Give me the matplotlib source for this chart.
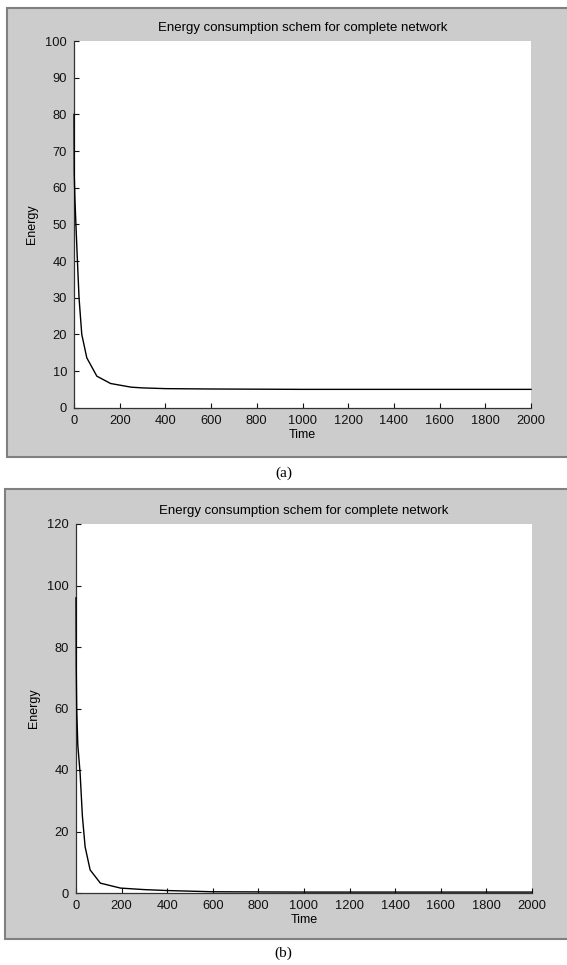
import matplotlib
matplotlib.use('Agg')
import matplotlib.pyplot as plt
from matplotlib.patches import Rectangle

# data
time_a = [0, 1, 4, 9, 15, 22, 34, 56, 100, 160, 250, 300, 400, 600, 800, 1000, 2000]
energy_a = [80, 64, 57, 49, 40, 30, 20, 13.6, 8.6, 6.6, 5.6, 5.4, 5.2, 5.1, 5.05, 5.0, 5.0]

time_b = [0, 1, 3, 8, 18, 28, 40, 62, 107, 195, 300, 400, 600, 1000, 2000]
energy_b = [96, 74, 60, 48, 39, 25, 15, 7.5, 3.2, 1.6, 1.1, 0.8, 0.4, 0.3, 0.3]

title = 'Energy consumption schem for complete network'
W, H = 567, 965

plt.rcParams['font.family'] = ['Liberation Sans', 'DejaVu Sans']
fig = plt.figure(figsize=(W / 100, H / 100), dpi=100, facecolor='white')


def px_rect(x0, y0, x1, y1):
    # pixel box (top-left origin) -> figure fraction [l, b, w, h]
    return [x0 / W, 1 - y1 / H, (x1 - x0) / W, (y1 - y0) / H]


def panel(bg_box, ax_box, t, e, ymax, ystep, caption, cap_y):
    l, b, w, h = px_rect(*bg_box)
    fig.patches.append(Rectangle((l, b), w, h, transform=fig.transFigure,
                                 facecolor='#cccccc', edgecolor='#808080',
                                 linewidth=1.5, zorder=-10))
    ax = fig.add_axes(px_rect(*ax_box))
    ax.plot(t, e, color='black', linewidth=1.0, zorder=5, clip_on=False)
    ax.set_xlim(0, 2000)
    ax.set_ylim(0, ymax)
    ax.set_xticks(range(0, 2001, 200))
    ax.set_yticks(range(0, ymax + 1, ystep))
    ax.spines['top'].set_visible(False)
    ax.spines['right'].set_visible(False)
    for s in ('left', 'bottom'):
        ax.spines[s].set_linewidth(0.9)
        ax.spines[s].set_color('#333333')
    ax.tick_params(direction='in', length=3.5, width=0.8, labelsize=9.3,
                   colors='#111111')
    ax.tick_params(axis='x', pad=5)
    ax.tick_params(axis='y', pad=5)
    ax.set_title(title, fontsize=9.5, pad=7)
    ax.set_xlabel('Time', fontsize=9, labelpad=1.5)
    ax.set_ylabel('Energy', fontsize=9, labelpad=5)
    fig.text(0.5, 1 - cap_y / H, caption, ha='center', va='center',
             family='Liberation Serif', fontsize=11)
    return ax


panel((7, 8, 570, 457), (74, 41, 531, 407.7), time_a, energy_a, 100, 10, '(a)', 473)
panel((5, 489, 570, 939), (76, 524, 532, 893), time_b, energy_b, 120, 20, '(b)', 953)

fig.savefig('out.png', dpi=100, facecolor='white')
